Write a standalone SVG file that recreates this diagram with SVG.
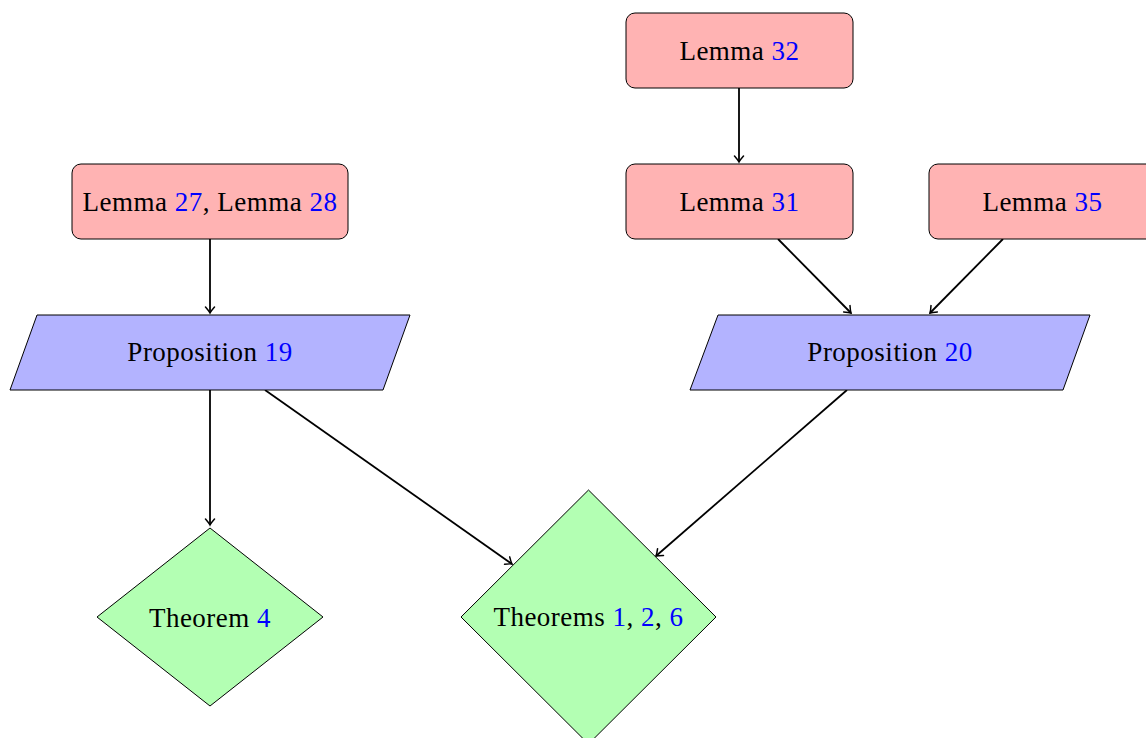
<svg xmlns="http://www.w3.org/2000/svg" width="1146" height="738" viewBox="0 0 1146 738">
<style>
.lem{fill:#ffb3b3;stroke:#000;stroke-width:1}
.prop{fill:#b3b3ff;stroke:#000;stroke-width:1}
.thm{fill:#b3ffb3;stroke:#000;stroke-width:1}
text{font-family:"Liberation Serif","Times New Roman",serif;font-size:27px;letter-spacing:0.5px;fill:#000;text-anchor:middle}
.ref{fill:#0000ff}
.edge{fill:none;stroke:#000;stroke-width:1.8;marker-end:url(#arr)}
</style>
<defs>
<marker id="arr" viewBox="-7 -6 9 12" refX="0" refY="0" markerWidth="9" markerHeight="12" markerUnits="userSpaceOnUse" orient="auto">
<path d="M-6,-4.5 Q-2,-1 0,0 Q-2,1 -6,4.5" fill="none" stroke="#000" stroke-width="1.5" stroke-linecap="round"/>
</marker>
</defs>
<rect width="1146" height="738" fill="#fff"/>
<g id="connectors">
<line class="edge" x1="739" y1="88" x2="739" y2="162"/>
<line class="edge" x1="210" y1="239" x2="210" y2="313"/>
<line class="edge" x1="778" y1="239" x2="851" y2="313"/>
<line class="edge" x1="1003" y1="239" x2="930" y2="313"/>
<line class="edge" x1="210" y1="390" x2="210" y2="525"/>
<line class="edge" x1="265" y1="390" x2="512" y2="564"/>
<line class="edge" x1="847" y1="390" x2="656" y2="556"/>
</g>
<g id="lemma32">
<rect class="lem" x="626" y="13" width="227" height="75" rx="9"/>
<text x="739.5" y="60">Lemma <tspan class="ref">32</tspan></text>
</g>
<g id="lemma31">
<rect class="lem" x="626" y="164" width="227" height="75" rx="9"/>
<text x="739.5" y="211">Lemma <tspan class="ref">31</tspan></text>
</g>
<g id="lemma35">
<rect class="lem" x="929" y="164" width="227" height="75" rx="9"/>
<text x="1042.5" y="211">Lemma <tspan class="ref">35</tspan></text>
</g>
<g id="lemma2728">
<rect class="lem" x="72" y="164" width="276" height="75" rx="9"/>
<text x="210" y="211">Lemma <tspan class="ref">27</tspan>, Lemma <tspan class="ref">28</tspan></text>
</g>
<g id="prop19">
<polygon class="prop" points="37,315 410,315 383,390 10,390"/>
<text x="210" y="361">Proposition <tspan class="ref">19</tspan></text>
</g>
<g id="prop20">
<polygon class="prop" points="718,315 1090,315 1063,390 690,390"/>
<text x="890" y="361">Proposition <tspan class="ref">20</tspan></text>
</g>
<g id="theorem4">
<polygon class="thm" points="210,528 323,617 210,706 97,617"/>
<text x="210" y="627">Theorem <tspan class="ref">4</tspan></text>
</g>
<g id="theorems126">
<polygon class="thm" points="588.5,490 716,617 588.5,744 461,617"/>
<text x="588.5" y="626">Theorems <tspan class="ref">1</tspan>, <tspan class="ref">2</tspan>, <tspan class="ref">6</tspan></text>
</g>
</svg>
